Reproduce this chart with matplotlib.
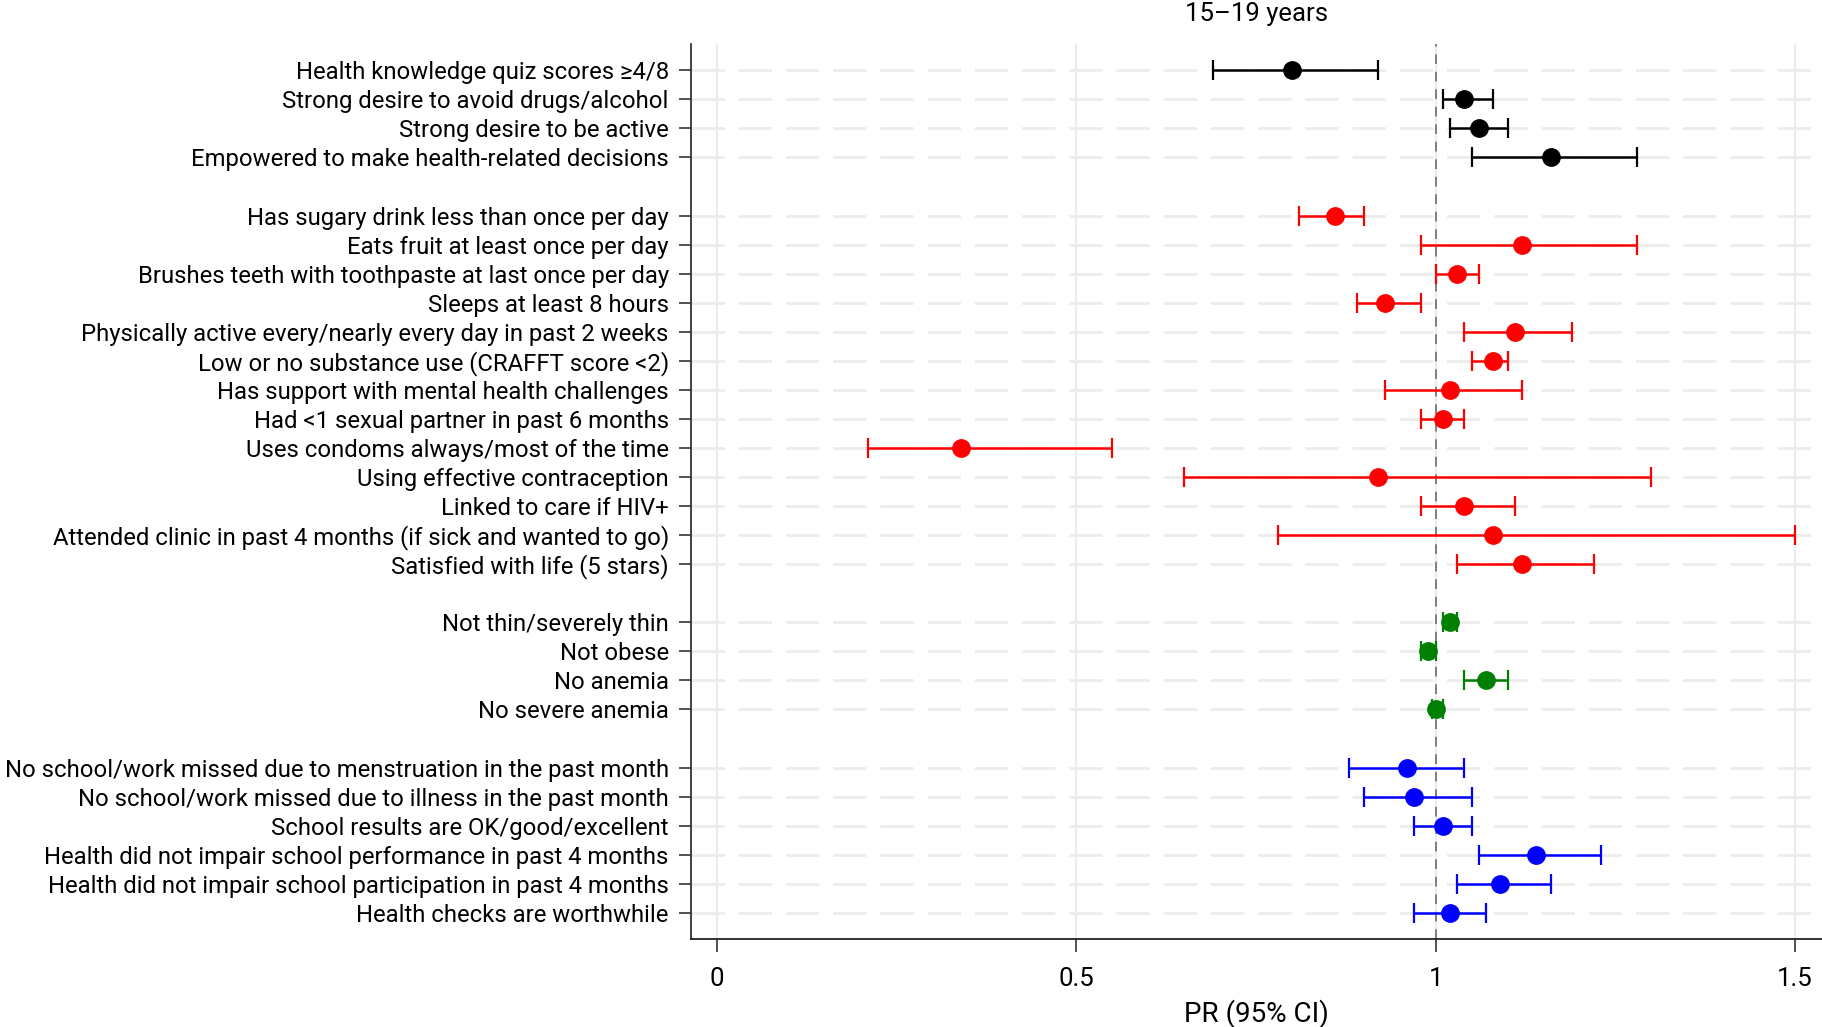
import matplotlib
matplotlib.use("Agg")
import matplotlib.pyplot as plt

plt.rcParams['font.family'] = ['Roboto', 'DejaVu Sans']

# groups of outcomes, top to bottom
labels_black = [
    "Health knowledge quiz scores \u22654/8",
    "Strong desire to avoid drugs/alcohol",
    "Strong desire to be active",
    "Empowered to make health-related decisions",
]
pr_black = [0.80, 1.04, 1.06, 1.16]
lo_black = [0.69, 1.01, 1.02, 1.05]
hi_black = [0.92, 1.08, 1.10, 1.28]

labels_red = [
    "Has sugary drink less than once per day",
    "Eats fruit at least once per day",
    "Brushes teeth with toothpaste at last once per day",
    "Sleeps at least 8 hours",
    "Physically active every/nearly every day in past 2 weeks",
    "Low or no substance use (CRAFFT score <2)",
    "Has support with mental health challenges",
    "Had <1 sexual partner in past 6 months",
    "Uses condoms always/most of the time",
    "Using effective contraception",
    "Linked to care if HIV+",
    "Attended clinic in past 4 months (if sick and wanted to go)",
    "Satisfied with life (5 stars)",
]
pr_red = [0.86, 1.12, 1.03, 0.93, 1.11, 1.08, 1.02, 1.01, 0.34, 0.92, 1.04, 1.08, 1.12]
lo_red = [0.81, 0.98, 1.00, 0.89, 1.04, 1.05, 0.93, 0.98, 0.21, 0.65, 0.98, 0.78, 1.03]
hi_red = [0.90, 1.28, 1.06, 0.98, 1.19, 1.10, 1.12, 1.04, 0.55, 1.30, 1.11, 1.50, 1.22]

labels_green = [
    "Not thin/severely thin",
    "Not obese",
    "No anemia",
    "No severe anemia",
]
pr_green = [1.02, 0.99, 1.07, 1.00]
lo_green = [1.01, 0.98, 1.04, 0.995]
hi_green = [1.03, 1.00, 1.10, 1.01]

labels_blue = [
    "No school/work missed due to menstruation in the past month",
    "No school/work missed due to illness in the past month",
    "School results are OK/good/excellent",
    "Health did not impair school performance in past 4 months",
    "Health did not impair school participation in past 4 months",
    "Health checks are worthwhile",
]
pr_blue = [0.96, 0.97, 1.01, 1.14, 1.09, 1.02]
lo_blue = [0.88, 0.90, 0.97, 1.06, 1.03, 0.97]
hi_blue = [1.04, 1.05, 1.05, 1.23, 1.16, 1.07]

groups = [
    (labels_black, pr_black, lo_black, hi_black, "black"),
    (labels_red, pr_red, lo_red, hi_red, "#ff0000"),
    (labels_green, pr_green, lo_green, hi_green, "#008000"),
    (labels_blue, pr_blue, lo_blue, hi_blue, "#0000ff"),
]

fig = plt.figure(figsize=(18.22, 10.27), dpi=100)
ax = fig.add_axes([0.3793, 0.0857, 0.6207, 0.8713])

all_y = []
all_labels = []
pos = 0
for labels, pr, lo, hi, col in groups:
    ys = [-(pos + i) for i in range(len(labels))]
    err = [[p - l for p, l in zip(pr, lo)], [h - p for p, h in zip(pr, hi)]]
    ax.errorbar(pr, ys, xerr=err, fmt='o', color=col, ecolor=col,
                markersize=12.5, elinewidth=1.8, capsize=7, capthick=1.6, zorder=3)
    all_y += ys
    all_labels += labels
    pos += len(labels) + 1

# grid
for y in all_y:
    ax.axhline(y, color='#ececec', lw=2, ls=(0, (12, 5)), zorder=0)
for x in [0, 0.5, 1.0, 1.5]:
    ax.axvline(x, color='#ececec', lw=1.5, zorder=0)
ax.axvline(1.0, color='#7f7f7f', lw=1.4, ls=(0, (5, 4)), zorder=1)

ax.set_yticks(all_y)
ax.set_yticklabels(all_labels, fontsize=17.2)
ax.set_ylim(all_y[-1] - 0.9, 0.9)
ax.set_xlim(-0.036, 1.5375)
ax.set_xticks([0, 0.5, 1, 1.5])
ax.set_xticklabels(["0", "0.5", "1", "1.5"], fontsize=18.5)
ax.tick_params(axis='y', length=9, width=1.2, pad=7, color='#333333')
ax.tick_params(axis='x', length=9, width=1.2, pad=11, color='#333333')

for s in ['top', 'right']:
    ax.spines[s].set_visible(False)
ax.spines['left'].set_color('#333333')
ax.spines['bottom'].set_color('#222222')
ax.spines['left'].set_linewidth(1.3)
ax.spines['bottom'].set_linewidth(1.3)

ax.set_xlabel("PR (95% CI)", fontsize=20, labelpad=6)
ax.set_title("15\u201319 years", fontsize=18.5, pad=17)

fig.savefig("out.png", dpi=100)
